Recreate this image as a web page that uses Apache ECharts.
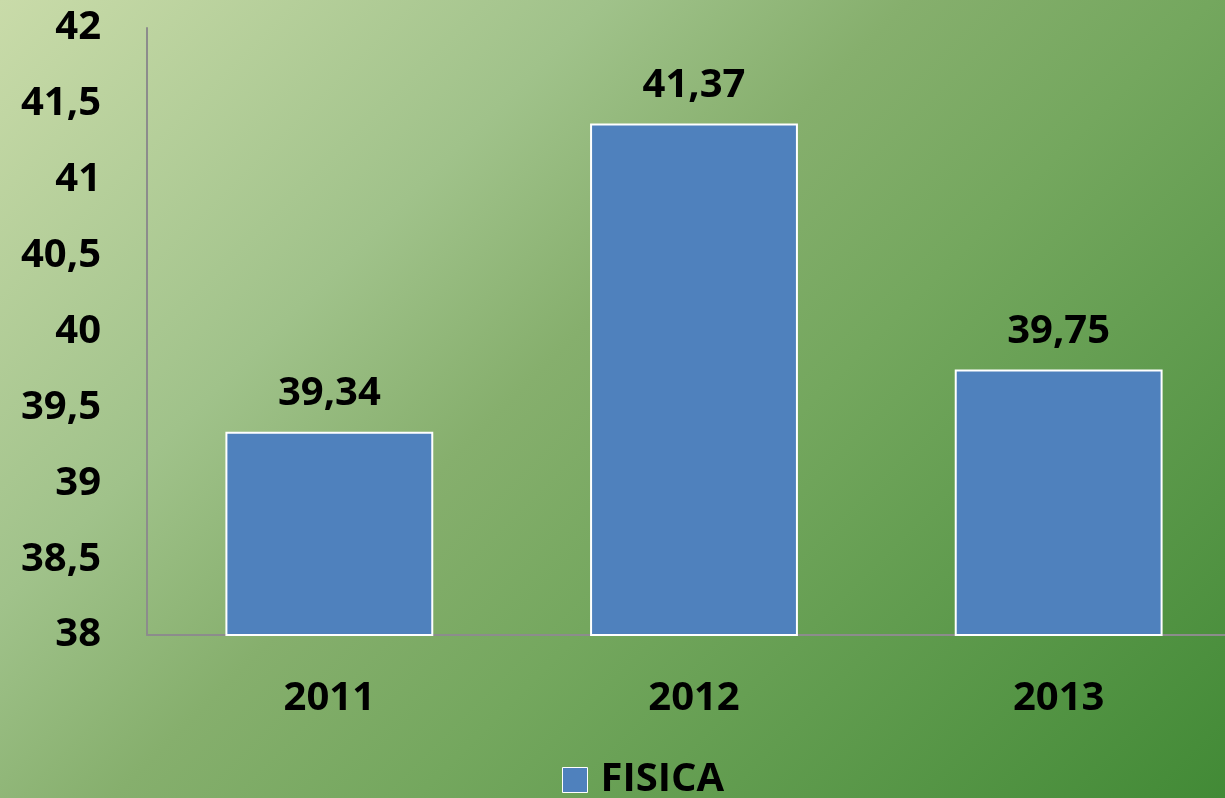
<!DOCTYPE html>
<html>
<head>
<meta charset="utf-8">
<script src="https://cdn.jsdelivr.net/npm/echarts@6/dist/echarts.min.js"></script>
<style>
  html, body { margin: 0; padding: 0; overflow: hidden; }
  #chart { width: 1241px; height: 798px; }
</style>
</head>
<body>
<div id="chart"></div>
<script>
// dati
const years = ["2011", "2012", "2013"];
const fisica = [39.34, 41.37, 39.75];
const seriesName = "FISICA";

const fmt = (v) => String(v).replace(".", ",");
const FONT = "Open Sans";

const chart = echarts.init(document.getElementById("chart"));
chart.setOption({
  // sfondo sfumato a 45 gradi (coordinate globali in pixel)
  backgroundColor: new echarts.graphic.LinearGradient(0, 0, 1011, 1011, [
    { offset: 0, color: "#c9dba9" },
    { offset: 0.3, color: "#a0c28a" },
    { offset: 0.45, color: "#86af6d" },
    { offset: 0.6, color: "#74a75e" },
    { offset: 1, color: "#428a36" }
  ], true),
  animation: false,
  grid: { left: 147, right: 0, top: 28, bottom: 163 },
  legend: {
    data: [seriesName],
    bottom: -7,
    left: 557,
    icon: "rect",
    itemWidth: 25,
    itemHeight: 25,
    itemGap: 10,
    itemStyle: { borderColor: "#ffffff", borderWidth: 1 },
    textStyle: { fontFamily: FONT, fontWeight: "bold", fontSize: 40, color: "#000", padding: [0, 0, 0, 8] }
  },
  xAxis: {
    type: "category",
    data: years,
    axisTick: { show: false },
    axisLine: { show: true, lineStyle: { color: "#8c8c8c", width: 2 } },
    axisLabel: {
      margin: 44,
      fontFamily: FONT,
      fontWeight: "bold",
      fontSize: 40,
      color: "#000"
    }
  },
  yAxis: {
    type: "value",
    min: 38,
    max: 42,
    interval: 0.5,
    axisTick: { show: false },
    splitLine: { show: false },
    axisLine: { show: true, lineStyle: { color: "#8c8c8c", width: 2 } },
    axisLabel: {
      margin: 46,
      fontFamily: FONT,
      fontWeight: "bold",
      fontSize: 40,
      color: "#000",
      formatter: (v) => fmt(v)
    }
  },
  series: [
    {
      name: seriesName,
      type: "bar",
      data: fisica,
      barWidth: "57%",
      itemStyle: { color: "#4f81bd", borderColor: "#ffffff", borderWidth: 2 },
      label: {
        show: true,
        position: "top",
        distance: 18,
        fontFamily: FONT,
        fontWeight: "bold",
        fontSize: 40,
        color: "#000",
        formatter: (p) => fmt(p.value)
      }
    }
  ]
});
</script>
</body>
</html>
